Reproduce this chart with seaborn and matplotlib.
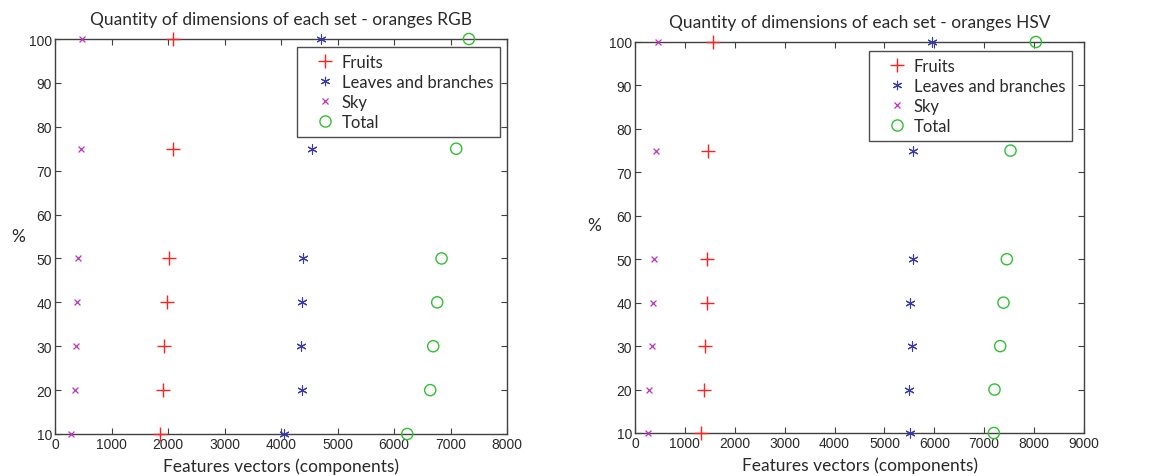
import matplotlib
matplotlib.use("Agg")
import matplotlib.pyplot as plt
from matplotlib import font_manager
from matplotlib.lines import Line2D
import seaborn as sns
import pandas as pd

# Percentage of the training set used
percent = [10, 20, 30, 40, 50, 75, 100]

# Feature-vector sizes (components) per class - RGB
rgb_fruits = [1865, 1907, 1930, 1983, 2025, 2084, 2084]
rgb_leaves = [4050, 4368, 4362, 4380, 4398, 4551, 4705]
rgb_sky = [283, 354, 372, 390, 407, 455, 484]
rgb_total = [6234, 6641, 6694, 6765, 6842, 7101, 7326]

# Feature-vector sizes (components) per class - HSV
hsv_fruits = [1330, 1384, 1410, 1450, 1450, 1471, 1571]
hsv_leaves = [5521, 5501, 5548, 5521, 5575, 5575, 5956]
hsv_sky = [254, 274, 341, 361, 381, 421, 461]
hsv_total = [7193, 7206, 7320, 7386, 7453, 7527, 8035]

series_names = ["Fruits", "Leaves and branches", "Sky", "Total"]
titles = ["Quantity of dimensions of each set - oranges RGB",
          "Quantity of dimensions of each set - oranges HSV"]
x_limits = [8000, 9000]
y_ticks = [10, 20, 30, 40, 50, 60, 70, 80, 90, 100]

sns.set_theme(style="white")
plt.rcParams["font.family"] = ["Lato", "DejaVu Sans"]

# condensed sans for the tick numbers if available
installed = {f.name for f in font_manager.fontManager.ttflist}
if "Liberation Sans Narrow" in installed:
    tick_family, tick_size = "Liberation Sans Narrow", 11.5
else:
    tick_family, tick_size = "Liberation Sans", 10

TEXT = "#2a2a2a"
AX = "#404040"
styles = {
    "Fruits": dict(marker="+", color="#ff2020", s=90, linewidth=1.0),
    "Leaves and branches": dict(marker=(6, 2, 0), color="#3a3ab0", s=45, linewidth=0.8),
    "Sky": dict(marker="x", color="#c030c0", s=18, linewidth=0.9),
    "Total": dict(marker="o", color="#30c030", s=65, linewidth=1.0,
                  facecolor="none", edgecolor="#30c030"),
}


def legend_handle(name):
    st = styles[name]
    return Line2D([], [], linestyle="none", marker=st["marker"],
                  markersize=st["s"] ** 0.5, markeredgewidth=st["linewidth"],
                  color=st["color"], markerfacecolor="none",
                  markeredgecolor=st["color"], label=name)


fig = plt.figure(figsize=(11.56, 4.77), dpi=100)
axes = [fig.add_axes([55 / 1156, 1 - 435 / 477, 452 / 1156, 395 / 477]),
        fig.add_axes([635 / 1156, 1 - 434 / 477, 449 / 1156, 391 / 477])]
legend_anchor = [(0.9845, 0.98), (0.973, 0.977)]

datasets = [[rgb_fruits, rgb_leaves, rgb_sky, rgb_total],
            [hsv_fruits, hsv_leaves, hsv_sky, hsv_total]]

for ax, data, title, xmax, anchor in zip(axes, datasets, titles, x_limits, legend_anchor):
    for name, values in zip(series_names, data):
        df = pd.DataFrame({"x": values, "y": percent})
        sns.scatterplot(data=df, x="x", y="y", ax=ax, legend=False,
                        clip_on=False, zorder=3, **styles[name])
    ax.set_xlim(0, xmax)
    ax.set_ylim(10, 100)
    ax.set_yticks(y_ticks)
    ax.set_xticks(range(0, xmax + 1, 1000))
    ax.tick_params(direction="in", length=4, width=0.8, color=AX,
                   top=True, right=True, bottom=True, left=True,
                   pad=2, labelcolor=TEXT, labelsize=tick_size,
                   labelfontfamily=tick_family)
    for sp in ax.spines.values():
        sp.set_color(AX)
        sp.set_linewidth(1.0)
    ax.set_title(title, fontsize=12.5, color=TEXT, pad=11)
    ax.set_xlabel("Features vectors (components)", fontsize=12.5, color=TEXT, labelpad=5)
    ax.set_ylabel("")
    leg = ax.legend(handles=[legend_handle(n) for n in series_names],
                    loc="upper right", bbox_to_anchor=anchor,
                    fontsize=12, frameon=True, fancybox=False,
                    borderpad=0.4, labelspacing=0.25, handletextpad=-0.3,
                    borderaxespad=0.0, handlelength=2.6)
    leg.get_frame().set_edgecolor("#202020")
    leg.get_frame().set_linewidth(1.0)
    for t in leg.get_texts():
        t.set_color(TEXT)

fig.text(18 / 1156, 1 - 237 / 477, "%", fontsize=12.5, color=TEXT,
         ha="center", va="center")
fig.text(594 / 1156, 1 - 226 / 477, "%", fontsize=12.5, color=TEXT,
         ha="center", va="center")

fig.savefig("out.png", dpi=100, facecolor="white")
